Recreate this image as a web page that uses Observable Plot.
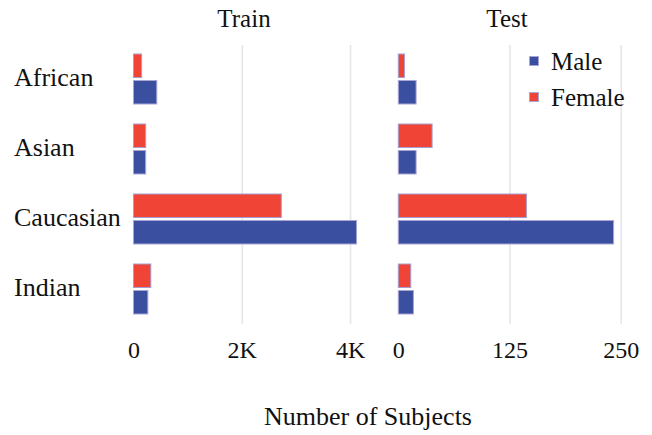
<!DOCTYPE html>
<html>
<head>
<meta charset="utf-8">
<script src="https://cdn.jsdelivr.net/npm/d3@7"></script>
<script src="https://cdn.jsdelivr.net/npm/@observablehq/plot@0.6"></script>
<style>
  html, body { margin: 0; padding: 0; background: #fff; }
  #wrap { position: relative; width: 652px; height: 435px; overflow: hidden; background: #fff;
          font-family: "Liberation Serif", "Times New Roman", serif; color: #111; }
  .abs { position: absolute; white-space: nowrap; line-height: 1; }
  .title { font-size: 25px; transform: translateX(-50%); top: 6px; }
  .caption { font-size: 26px; transform: translateX(-50%); top: 404px; left: 368px; }
  .legend { left: 529px; top: 43px; font-size: 25px; }
  .legend .row { display: flex; align-items: center; height: 36px; }
  .legend .sw { width: 10px; height: 10px; margin-right: 12px; box-sizing: border-box; border: 1px solid #a9a6d6; }
  #train, #test { position: absolute; top: 0; }
  #train { left: 0; }
  #test { left: 380px; }
  svg { overflow: visible; }
</style>
</head>
<body>
<div id="wrap">
  <div id="train"></div>
  <div id="test"></div>
  <div class="abs title" style="left:244px">Train</div>
  <div class="abs title" style="left:507px">Test</div>
  <div class="abs legend" id="legend"></div>
  <div class="abs caption">Number of Subjects</div>
</div>
<script>
const races = ["African", "Asian", "Caucasian", "Indian"];
const genders = ["Male", "Female"];
const colors = ["#3a4f9f", "#ef4436"];
const trainMale = [430, 225, 4120, 265];
const trainFemale = [150, 225, 2730, 320];
const testMale = [20, 20, 242, 17];
const testFemale = [7, 38, 144, 14];
const trainTicks = [0, 2000, 4000];
const trainTickLabels = ["0", "2K", "4K"];
const testTicks = [0, 125, 250];
const testTickLabels = ["0", "125", "250"];

const toRows = (male, female) => races.flatMap((r, i) => [
  {race: r, gender: "Male", value: male[i]},
  {race: r, gender: "Female", value: female[i]}
]);

function panel({rows, domain, ticks, labels, width, marginLeft, marginRight, showY}) {
  const color = {domain: genders, range: colors};
  return Plot.plot({
    width, height: 370,
    marginTop: 45, marginBottom: 46, marginLeft, marginRight,
    style: {fontFamily: "Liberation Serif, Times New Roman, serif", color: "#111", background: "transparent"},
    x: {domain, ticks, label: null},
    y: {domain: races, paddingInner: 0.28, paddingOuter: 0.13, label: null, axis: showY ? undefined : null},
    color,
    marks: [
      Plot.gridX(ticks.filter(t => t > 0), {stroke: "#e6e6e6", strokeOpacity: 1, strokeWidth: 1.6}),
      Plot.barX(rows.filter(d => d.gender === "Female"), {
        x: "value", y: "race", fill: "gender", insetBottom: 26.5,
        stroke: "#a59fd0", strokeWidth: 1
      }),
      Plot.barX(rows.filter(d => d.gender === "Male"), {
        x: "value", y: "race", fill: "gender", insetTop: 26.5,
        stroke: "#a9a6d6", strokeWidth: 1
      }),
      Plot.axisX({ticks, tickSize: 0, tickPadding: 16, fontSize: 24,
        tickFormat: d => labels[ticks.indexOf(d)], label: null}),
      showY ? Plot.axisY({tickSize: 0, tickPadding: 120, textAnchor: "start", fontSize: 26, dy: -2, label: null}) : null
    ]
  });
}

document.getElementById("train").append(panel({
  rows: toRows(trainMale, trainFemale), domain: [0, 4300], ticks: trainTicks, labels: trainTickLabels,
  width: 380, marginLeft: 133.5, marginRight: 13.7, showY: true
}));
document.getElementById("test").append(panel({
  rows: toRows(testMale, testFemale), domain: [0, 260], ticks: testTicks, labels: testTickLabels,
  width: 272, marginLeft: 18.3, marginRight: 22.4, showY: false
}));

const legend = document.getElementById("legend");
genders.forEach((g, i) => {
  const row = document.createElement("div");
  row.className = "row";
  const sw = document.createElement("span");
  sw.className = "sw";
  sw.style.background = colors[i];
  const lab = document.createElement("span");
  lab.textContent = g;
  row.append(sw, lab);
  legend.append(row);
});
</script>
</body>
</html>
